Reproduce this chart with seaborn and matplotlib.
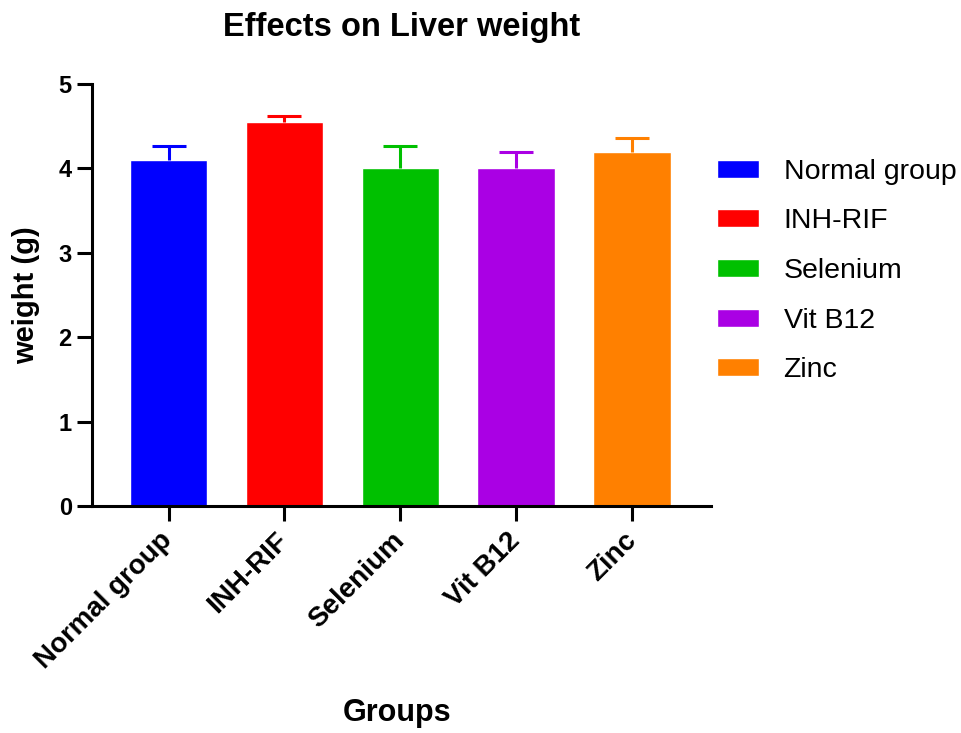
import matplotlib
matplotlib.use("Agg")
import matplotlib.pyplot as plt
import matplotlib.transforms as mtransforms
import seaborn as sns
import pandas as pd
import numpy as np

groups = ["Normal group", "INH-RIF", "Selenium", "Vit B12", "Zinc"]
weights = [4.10, 4.55, 4.00, 4.00, 4.19]
sem = [0.17, 0.07, 0.26, 0.19, 0.17]
colors = ["#0000FF", "#FF0000", "#00C000", "#AA00E4", "#FF8000"]
yticks = [0, 1, 2, 3, 4, 5]

sns.set_style("ticks")
plt.rcParams['font.family'] = ['Liberation Sans', 'DejaVu Sans']
for k in ["text.color", "axes.labelcolor", "xtick.color", "ytick.color", "axes.edgecolor"]:
    plt.rcParams[k] = "black"

df = pd.DataFrame({"Group": groups, "Weight": weights})

W, H = 962, 733
fig = plt.figure(figsize=(9.62, 7.33), dpi=100)
ax = fig.add_axes([92 / W, 1 - 506 / H, (711 - 92) / W, (506 - 84) / H])

sns.barplot(data=df, x="Group", y="Weight", hue="Group", palette=colors,
            order=groups, hue_order=groups, width=0.67, dodge=False,
            errorbar=None, legend=True, ax=ax, saturation=1)

xs = np.arange(len(groups))
for i in range(len(groups)):
    _, caps, _ = ax.errorbar(xs[i], weights[i], yerr=[[0], [sem[i]]], fmt="none",
                             ecolor=colors[i], elinewidth=2.2, capsize=12,
                             capthick=2.2, zorder=1)
    caps[0].remove()

ax.set_xlim(-0.66, 4.68)
ax.set_ylim(0, 5)
ax.set_yticks(yticks)
ax.set_yticklabels([str(t) for t in yticks], fontsize=17, fontweight="bold")
ax.set_xticks(xs)
ax.set_xticklabels(groups, fontsize=20, fontweight="bold", rotation=45,
                   ha="right", va="center", rotation_mode="anchor")
offset = mtransforms.ScaledTranslation(4 / 100, 0, fig.dpi_scale_trans)
for lbl in ax.get_xticklabels():
    lbl.set_transform(lbl.get_transform() + offset)

for s in ["top", "right"]:
    ax.spines[s].set_visible(False)
for s in ["left", "bottom"]:
    ax.spines[s].set_linewidth(2.2)
ax.tick_params(axis="both", width=2.2, length=11, color="black")
ax.tick_params(axis="y", pad=3.5)
ax.tick_params(axis="x", pad=11)

ax.set_ylabel("weight (g)", fontsize=21, fontweight="bold")
ax.yaxis.set_label_coords(-0.084, 0.5)
ax.set_xlabel("Groups", fontsize=22, fontweight="bold", va="top")
ax.xaxis.set_label_coords(0.493, -0.455)

ax.set_title("Effects on Liver weight", fontsize=23.5, fontweight="bold", pad=34.5)

leg = ax.legend(loc="center left", bbox_to_anchor=(717 / W, 1 - 271 / H),
                bbox_transform=fig.transFigure, frameon=False, fontsize=20.5,
                handlelength=1.47, handleheight=0.6, handletextpad=0.87,
                labelspacing=0.83, borderpad=0, borderaxespad=0)

fig.savefig("out.png", dpi=100)
